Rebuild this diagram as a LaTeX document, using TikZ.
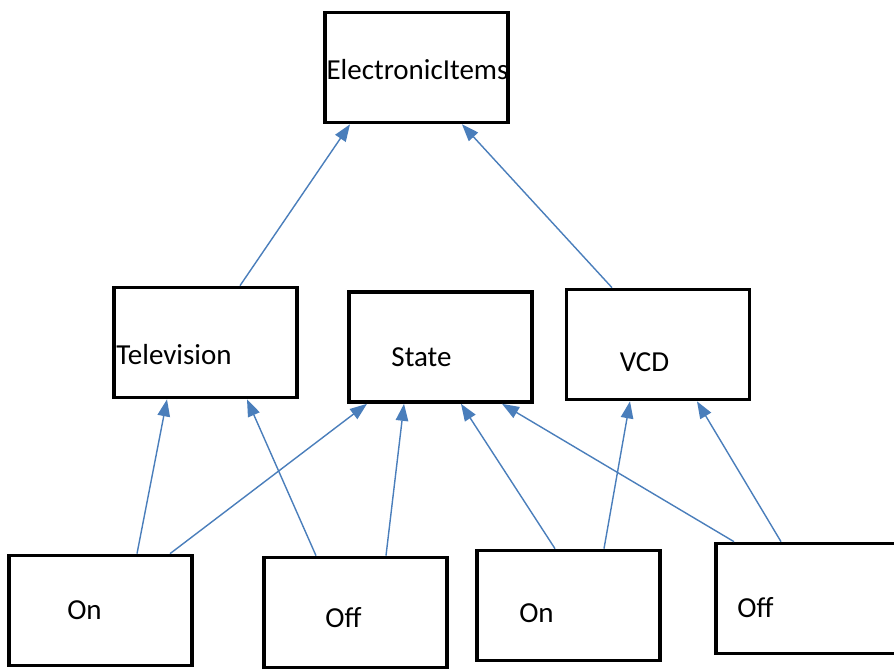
\documentclass[tikz,border=0pt]{standalone}
\usepackage{fontspec}
\setmainfont{Carlito}
\usepackage{xcolor}
\definecolor{lineBlue}{HTML}{4A7EBB}
\usepackage{tikz}
\usetikzlibrary{calc,arrows.meta}

\begin{document}
\begin{tikzpicture}[x=0.02cm,y=-0.02cm,
    box/.style={draw=black, line width=2.1pt, minimum width=3.66cm, minimum height=2.2cm, inner sep=0pt},
    txt/.style={font=\fontsize{16.5}{19}\selectfont},
    link/.style={lineBlue, line width=0.8pt, -{Triangle[length=0.34cm,width=0.25cm]}}]
  \useasboundingbox (0,0) rectangle (894,670);
  % boxes, text set off centre as in the sketch
  \node[box, label={[txt, xshift=0.02cm, yshift=-0.05cm]center:ElectronicItems}] (items) at (416.5,67.5) {};
  \node[box, label={[txt, xshift=-0.63cm, yshift=-0.25cm]center:Television}] (tv) at (205.5,342.5) {};
  \node[box, label={[txt, xshift=-0.38cm, yshift=-0.2cm]center:State}] (state) at (440.5,347) {};
  \node[box, label={[txt, xshift=-0.27cm, yshift=-0.35cm]center:VCD}] (vcd) at (658,344.5) {};
  \node[box, label={[txt, xshift=-0.32cm, yshift=0cm]center:On}] (on1) at (100.5,610.5) {};
  \node[box, label={[txt, xshift=-0.24cm, yshift=-0.11cm]center:Off}] (off1) at (355.5,612.5) {};
  \node[box, label={[txt, xshift=-0.64cm, yshift=-0.15cm]center:On}] (on2) at (568.5,605.5) {};
  \node[box, label={[txt, xshift=-1.04cm, yshift=-0.19cm]center:Off}] (off2) at (807.5,598.5) {};
  % arrows: from/start offset/to/end offset
  \foreach \a/\da/\b/\db in {tv/34.5/items/-66.5, vcd/-46/items/45.5,
      on1/36.5/tv/-38.5, on1/69.5/state/-73.5, off1/-39.5/tv/41.5, off1/30.5/state/-36.5,
      on2/-13.5/state/20.5, on2/35.5/vcd/-28, off2/-73.5/state/61.5, off2/-26.5/vcd/39}
    \draw[link] ($(\a.north)+(\da,0)$) -- ($(\b.south)+(\db,0)$);
\end{tikzpicture}
\end{document}
